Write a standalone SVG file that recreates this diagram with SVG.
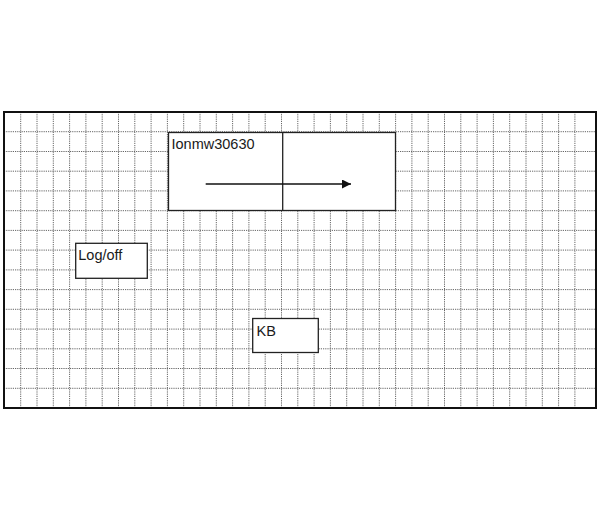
<svg xmlns="http://www.w3.org/2000/svg" width="600" height="520" viewBox="0 0 600 520">
  <defs>
    <style>
      .grid line { stroke: #666666; stroke-width: 1; stroke-dasharray: 1.2 1; }
      .box { fill: #ffffff; stroke: #222222; stroke-width: 1.3; }
      .lbl { font-family: "Liberation Sans", Arial, sans-serif; font-size: 14.5px; fill: #1a1a1a; }
      .conn { stroke: #111111; stroke-width: 1.4; fill: none; }
    </style>
    <marker id="arrow" viewBox="0 0 10 10" refX="10" refY="5" markerWidth="10" markerHeight="9" markerUnits="userSpaceOnUse" orient="auto">
      <path d="M0,0 L10,5 L0,10 z" fill="#111111"/>
    </marker>
  </defs>
  <rect x="0" y="0" width="600" height="520" fill="#ffffff"/>
  <g id="grid" class="grid">
    <line x1="20.7" y1="112" x2="20.7" y2="408"/>
    <line x1="37" y1="112" x2="37" y2="408"/>
    <line x1="53.3" y1="112" x2="53.3" y2="408"/>
    <line x1="69.6" y1="112" x2="69.6" y2="408"/>
    <line x1="85.9" y1="112" x2="85.9" y2="408"/>
    <line x1="102.2" y1="112" x2="102.2" y2="408"/>
    <line x1="118.5" y1="112" x2="118.5" y2="408"/>
    <line x1="134.8" y1="112" x2="134.8" y2="408"/>
    <line x1="151.1" y1="112" x2="151.1" y2="408"/>
    <line x1="167.4" y1="112" x2="167.4" y2="408"/>
    <line x1="183.7" y1="112" x2="183.7" y2="408"/>
    <line x1="200" y1="112" x2="200" y2="408"/>
    <line x1="216.3" y1="112" x2="216.3" y2="408"/>
    <line x1="232.6" y1="112" x2="232.6" y2="408"/>
    <line x1="248.9" y1="112" x2="248.9" y2="408"/>
    <line x1="265.2" y1="112" x2="265.2" y2="408"/>
    <line x1="281.5" y1="112" x2="281.5" y2="408"/>
    <line x1="297.8" y1="112" x2="297.8" y2="408"/>
    <line x1="314.1" y1="112" x2="314.1" y2="408"/>
    <line x1="330.4" y1="112" x2="330.4" y2="408"/>
    <line x1="346.7" y1="112" x2="346.7" y2="408"/>
    <line x1="363" y1="112" x2="363" y2="408"/>
    <line x1="379.3" y1="112" x2="379.3" y2="408"/>
    <line x1="395.6" y1="112" x2="395.6" y2="408"/>
    <line x1="411.9" y1="112" x2="411.9" y2="408"/>
    <line x1="428.2" y1="112" x2="428.2" y2="408"/>
    <line x1="444.5" y1="112" x2="444.5" y2="408"/>
    <line x1="460.8" y1="112" x2="460.8" y2="408"/>
    <line x1="477.1" y1="112" x2="477.1" y2="408"/>
    <line x1="493.4" y1="112" x2="493.4" y2="408"/>
    <line x1="509.7" y1="112" x2="509.7" y2="408"/>
    <line x1="526" y1="112" x2="526" y2="408"/>
    <line x1="542.3" y1="112" x2="542.3" y2="408"/>
    <line x1="558.6" y1="112" x2="558.6" y2="408"/>
    <line x1="574.9" y1="112" x2="574.9" y2="408"/>
    <line x1="4" y1="131.7" x2="596" y2="131.7"/>
    <line x1="4" y1="151.5" x2="596" y2="151.5"/>
    <line x1="4" y1="171.2" x2="596" y2="171.2"/>
    <line x1="4" y1="190.9" x2="596" y2="190.9"/>
    <line x1="4" y1="210.7" x2="596" y2="210.7"/>
    <line x1="4" y1="230.4" x2="596" y2="230.4"/>
    <line x1="4" y1="250.1" x2="596" y2="250.1"/>
    <line x1="4" y1="269.9" x2="596" y2="269.9"/>
    <line x1="4" y1="289.6" x2="596" y2="289.6"/>
    <line x1="4" y1="309.3" x2="596" y2="309.3"/>
    <line x1="4" y1="329.1" x2="596" y2="329.1"/>
    <line x1="4" y1="348.8" x2="596" y2="348.8"/>
    <line x1="4" y1="368.5" x2="596" y2="368.5"/>
    <line x1="4" y1="388.3" x2="596" y2="388.3"/>
  </g>
  <rect x="4" y="112" width="592" height="296" fill="none" stroke="#111111" stroke-width="2"/>
  <g id="node-lonmw30630">
    <rect class="box" x="168.5" y="132.5" width="227" height="78"/>
    <line x1="282.7" y1="132.5" x2="282.7" y2="210.5" stroke="#222222" stroke-width="1.3"/>
    <text class="lbl" x="171.5" y="149">Ionmw30630</text>
  </g>
  <g id="node-logoff">
    <rect class="box" x="75.7" y="243.3" width="71.6" height="35"/>
    <text class="lbl" x="78.3" y="259.5">Log/off</text>
  </g>
  <g id="node-kb">
    <rect class="box" x="252.7" y="318.5" width="65.6" height="34"/>
    <text class="lbl" x="256.5" y="336">KB</text>
  </g>
  <g id="connectors">
    <line class="conn" x1="205.7" y1="184" x2="351" y2="184" marker-end="url(#arrow)"/>
  </g>
</svg>
